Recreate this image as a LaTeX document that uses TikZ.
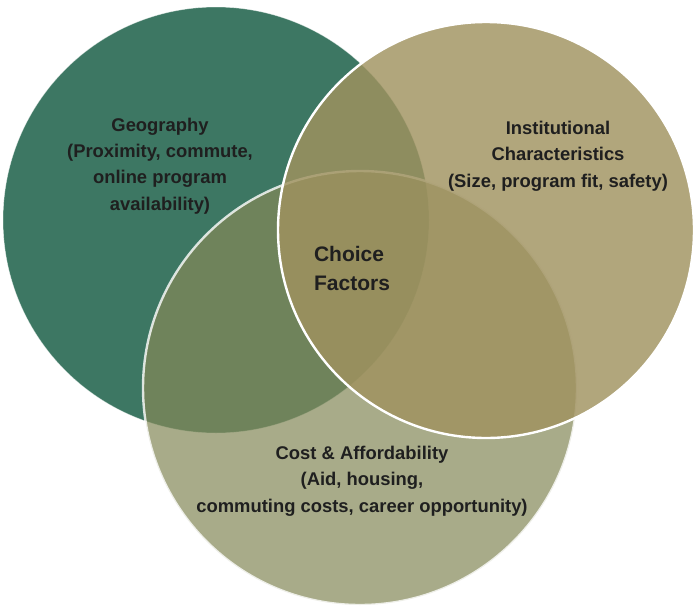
\documentclass[tikz,border=0pt]{standalone}
\usepackage{fontspec}
\setmainfont{Liberation Sans}
\begin{document}
\begin{tikzpicture}[x=1pt,y=-1pt,
  lbl/.style={font=\bfseries\fontsize{18.4}{26.3}\selectfont, text=black!88, align=center, inner sep=0pt},
  ring/.style={draw=white, line width=2.4pt}]
\definecolor{geo}{RGB}{61,119,99}
\definecolor{cost}{RGB}{132,137,89}
\definecolor{inst}{RGB}{160,146,95}
\useasboundingbox (0,0) rectangle (695,605);
% three overlapping sets
\fill[geo] (216,220) circle (213);
\draw[white, line width=0.6pt, opacity=0.5] (216,220) circle (213);
\fill[cost, fill opacity=0.71] (360,388) circle (217);
\draw[ring, draw opacity=0.8] (360,388) circle (217);
\fill[inst, fill opacity=0.82] (486,230) circle (208);
\draw[ring] (486,230) circle (208);
% labels
\node[lbl] (geog) at (160,166) {Geography\\(Proximity, commute,\\online program\\availability)};
\node[lbl] (instc) at (558,156) {Institutional\\Characteristics\\(Size, program fit, safety)};
\node[lbl, font=\bfseries\fontsize{21}{29}\selectfont, align=left] (core) at (352,268) {Choice\\Factors};
\node[lbl] (costa) at (362,481) {Cost \& Affordability\\(Aid, housing,\\commuting costs, career opportunity)};
\end{tikzpicture}
\end{document}
